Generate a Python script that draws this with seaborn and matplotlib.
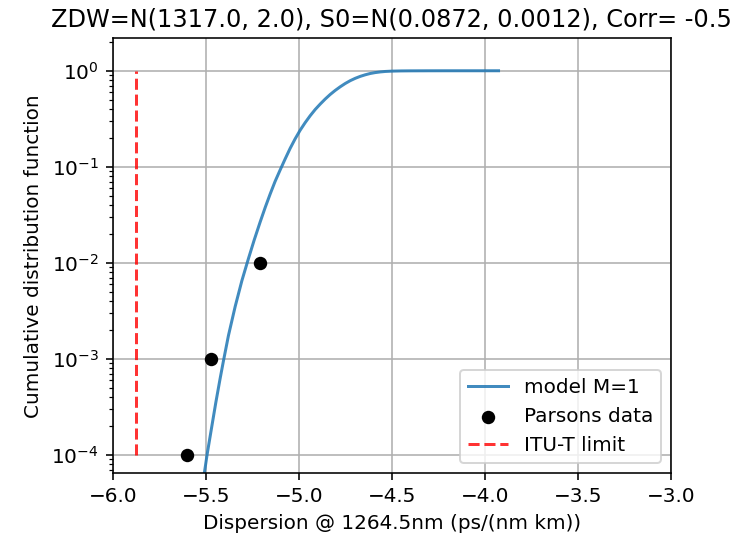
"""CDF of zero-dispersion model vs Parsons data at 1264.5 nm."""

import matplotlib
matplotlib.use("Agg")
import matplotlib.pyplot as plt
import seaborn as sns
import pandas as pd

# model curve
MODEL_X = [-5.530, -5.510, -5.493, -5.468, -5.446, -5.423, -5.405, -5.378, -5.342,
           -5.306, -5.271, -5.240, -5.208, -5.180, -5.154, -5.128, -5.101, -5.074,
           -5.047, -5.020, -4.993, -4.966, -4.939, -4.912, -4.885, -4.858, -4.832,
           -4.805, -4.778, -4.751, -4.724, -4.697, -4.670, -4.643, -4.617, -4.590,
           -4.563, -4.536, -4.500, -4.450, -4.400, -4.300, -4.200, -4.050, -3.927]
MODEL_Y = [3.2e-5, 6.0e-5, 1.0e-4, 1.95e-4, 3.5e-4, 6.2e-4, 9.5e-4, 1.75e-3, 3.5e-3,
           6.5e-3, 1.1e-2, 1.72e-2, 2.65e-2, 0.038, 0.052, 0.070, 0.092, 0.120,
           0.155, 0.195, 0.240, 0.288, 0.340, 0.395, 0.450, 0.508, 0.565,
           0.623, 0.680, 0.736, 0.788, 0.834, 0.874, 0.908, 0.936, 0.957,
           0.972, 0.983, 0.991, 0.996, 0.998, 0.9995, 1.0, 1.0, 1.0]

# Parsons measured points
PARSONS_X = [-5.600, -5.473, -5.209]
PARSONS_Y = [1e-4, 1e-3, 1e-2]

# ITU-T limit
ITU_X = -5.876
ITU_Y = [1e-4, 1.0]

TITLE = "ZDW=N(1317.0, 2.0), S0=N(0.0872, 0.0012), Corr= -0.5"


def main():
    model = pd.DataFrame({"x": MODEL_X, "y": MODEL_Y})
    parsons = pd.DataFrame({"x": PARSONS_X, "y": PARSONS_Y})

    plt.rcParams["font.family"] = ["DejaVu Sans"]
    dpi = 144
    fig = plt.figure(figsize=(731 / dpi, 539 / dpi), dpi=dpi)
    ax = fig.add_axes([0.1542, 0.1219, 0.918 - 0.1542, 0.929 - 0.1219])

    sns.lineplot(data=model, x="x", y="y", ax=ax, color="#1f77b4", alpha=0.85,
                 linewidth=1.5, label="model M=1", sort=False, estimator=None)
    sns.scatterplot(data=parsons, x="x", y="y", ax=ax, color="black", s=45,
                    edgecolor="black", linewidth=0, label="Parsons data", zorder=3)
    ax.plot([ITU_X, ITU_X], ITU_Y, "--", color="red", alpha=0.8, linewidth=1.5,
            label="ITU-T limit")

    ax.set_yscale("log")
    ax.set_xlim(-6.0, -3.0)
    ax.set_ylim(6.4e-5, 2.18)
    ax.grid(True, color="#b0b0b0", linewidth=0.8)
    ax.set_axisbelow(True)

    ax.set_title(TITLE, fontsize=12)
    ax.set_xlabel("Dispersion @ 1264.5nm (ps/(nm km))")
    ax.set_ylabel("Cumulative distribution function")
    ax.legend(loc="lower right")

    fig.savefig("out.png", dpi=dpi)


if __name__ == "__main__":
    main()
